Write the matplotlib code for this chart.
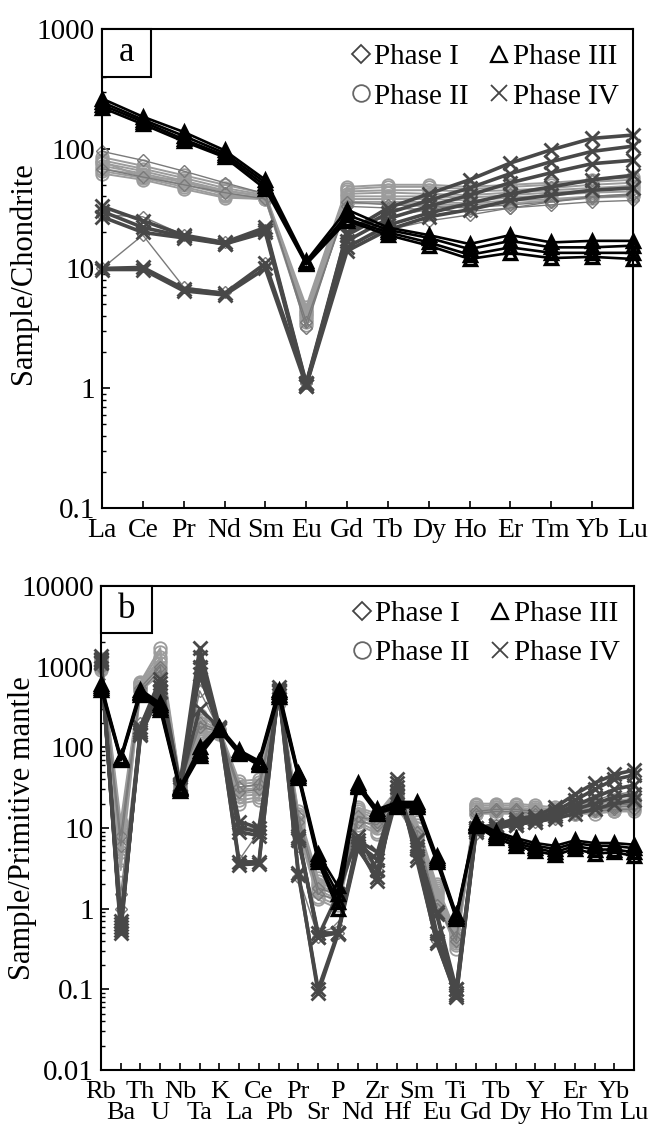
import matplotlib
matplotlib.use("Agg")
import matplotlib.pyplot as plt
from matplotlib.lines import Line2D
from matplotlib.patches import Rectangle

plt.rcParams['font.family'] = ['Liberation Serif', 'DejaVu Serif']

# ---- panel a: chondrite-normalised REE ----
ree = ['La', 'Ce', 'Pr', 'Nd', 'Sm', 'Eu', 'Gd', 'Tb', 'Dy', 'Ho', 'Er', 'Tm', 'Yb', 'Lu']

ree_phase1 = [
    [95, 80, 65, 52, 42, 3.2, 36, 34, 33, 32, 34, 36, 39, 41],
    [68, 58, 50, 43, 38, 3.6, 33, 32, 31, 30, 32, 34, 36, 37],
    [28, 27, 19, 16.5, 21, 1.1, 22, 27, 31, 35, 42, 48, 55, 58],
    [10, 19, 7, 6.3, 11, 1.1, 16, 21, 25, 28, 32, 36, 40, 42],
]
ree_phase2 = [
    [85, 72, 60, 50, 42, 4.8, 48, 50, 50, 48, 50, 52, 55, 58],
    [80, 68, 57, 47, 41, 4.5, 46, 48, 48, 46, 48, 50, 53, 55],
    [76, 65, 54, 45, 40, 4.3, 44, 45, 45, 44, 45, 47, 50, 52],
    [72, 62, 52, 44, 40, 4.0, 42, 43, 42, 41, 43, 45, 47, 49],
    [68, 60, 50, 42, 39, 3.8, 40, 40, 40, 39, 41, 43, 45, 47],
    [65, 57, 48, 40, 38, 3.6, 38, 38, 38, 37, 39, 41, 43, 44],
    [62, 55, 46, 39, 38, 3.4, 36, 36, 36, 35, 37, 38, 40, 41],
    [78, 58, 55, 41, 39, 4.2, 35, 35, 34, 34, 35, 37, 39, 40],
]
ree_phase3 = [
    [262, 185, 138, 97, 55, 11.5, 31, 22, 19, 16, 19, 16.5, 17, 17],
    [245, 175, 128, 92, 52, 11.2, 28, 21, 18, 14.5, 17, 15, 15, 15.5],
    [232, 168, 120, 88, 49, 11.0, 26, 20, 16.5, 13, 15, 13.5, 13.5, 13.5],
    [220, 160, 115, 85, 46, 10.8, 25, 19, 15.5, 12, 13.5, 12.2, 12.5, 12],
]
ree_phase4 = [
    [33, 25, 19, 16.5, 22, 1.1, 20, 32, 42, 55, 76, 98, 122, 130],
    [30, 22, 18.5, 16, 21, 1.08, 19, 29, 37, 47, 62, 78, 95, 105],
    [27, 20, 18, 16, 20, 1.05, 17, 26, 33, 41, 52, 63, 75, 80],
    [10, 10.2, 6.8, 6.2, 11, 1.1, 15, 23, 29, 35, 42, 48, 55, 60],
    [9.8, 9.8, 6.5, 6.0, 10, 1.05, 14, 21, 27, 31, 37, 41, 45, 47],
]

# ---- panel b: primitive-mantle-normalised trace elements ----
trace = ['Rb', 'Ba', 'Th', 'U', 'Nb', 'Ta', 'K', 'La', 'Ce', 'Pb', 'Pr', 'Sr', 'P', 'Nd',
         'Zr', 'Hf', 'Sm', 'Eu', 'Ti', 'Gd', 'Tb', 'Dy', 'Y', 'Ho', 'Er', 'Tm', 'Yb', 'Lu']

tr_phase1 = [
    [1000, 8, 550, 1000, 38, 200, 160, 32, 35, 420, 14, 1.8, 1.5, 14, 12, 22, 9, 1.0, 0.45, 16, 17, 17, 16, 15, 16, 17, 18, 19],
    [950, 6, 500, 900, 35, 180, 155, 28, 30, 400, 12, 1.5, 1.3, 12, 11, 20, 8, 1.1, 0.4, 15, 16, 16, 15, 14, 15, 16, 17, 17],
    [1100, 1.5, 200, 600, 33, 700, 170, 10, 10, 480, 6, 0.5, 0.6, 6.5, 4, 30, 5.5, 0.45, 0.1, 10, 11, 13, 13, 15, 19, 22, 26, 28],
    [1050, 1.0, 180, 500, 32, 500, 165, 4, 9, 450, 2.5, 0.45, 0.5, 6, 3, 25, 5, 0.4, 0.09, 8.5, 10, 11, 12, 13, 15, 17, 19, 20],
]
tr_phase2 = [
    [1250, 12, 650, 1700, 40, 250, 170, 38, 40, 500, 16, 2.4, 1.7, 18, 15, 30, 12, 2.0, 0.5, 20, 20, 20, 19, 18, 20, 21, 22, 23],
    [1200, 10, 620, 1500, 38, 220, 165, 35, 37, 480, 15, 2.2, 1.6, 17, 14, 28, 11, 1.9, 0.48, 19, 19, 19, 18, 17, 19, 20, 21, 22],
    [1150, 9, 600, 1300, 36, 200, 160, 32, 34, 450, 14, 2.0, 1.5, 16, 13, 26, 10, 1.8, 0.45, 18, 18, 18, 17, 17, 18, 19, 20, 21],
    [1100, 8, 580, 1200, 35, 180, 158, 30, 31, 430, 13, 1.9, 1.4, 15, 12, 25, 10, 1.7, 0.42, 17, 18, 17, 17, 16, 17, 18, 19, 20],
    [1050, 6, 560, 1100, 34, 160, 155, 27, 28, 400, 12, 1.7, 1.3, 14, 11, 24, 9, 1.6, 0.4, 17, 17, 17, 16, 16, 17, 17, 18, 19],
    [1000, 5, 540, 1000, 32, 150, 152, 25, 26, 380, 11, 1.6, 1.2, 13, 10, 22, 8.5, 1.5, 0.38, 16, 16, 16, 16, 15, 16, 17, 17, 18],
    [950, 4, 520, 900, 31, 140, 150, 22, 24, 360, 10, 1.4, 1.1, 12, 9, 20, 8, 1.4, 0.35, 15, 16, 15, 15, 15, 15, 16, 16, 17],
    [900, 3, 500, 800, 30, 130, 148, 20, 22, 350, 9, 1.3, 1.0, 11, 8.5, 18, 7.5, 1.3, 0.32, 15, 15, 15, 14, 14, 15, 15, 16, 16],
]
tr_phase3 = [
    [600, 76, 520, 350, 32, 100, 180, 92, 68, 520, 48, 4.8, 1.9, 36, 17, 21, 21, 4.5, 0.85, 12, 9, 7.5, 6.5, 6, 7, 6.5, 6.5, 6.2],
    [570, 73, 490, 330, 31, 90, 175, 88, 65, 480, 46, 4.4, 1.5, 34, 16, 19.5, 20, 4.2, 0.82, 11.5, 8.5, 7, 6, 5.5, 6.5, 6, 6, 5.6],
    [545, 71, 465, 310, 30, 82, 168, 85, 62, 450, 44, 4.1, 1.2, 33, 15.5, 18.5, 19, 4.0, 0.78, 11, 8, 6.5, 5.6, 5, 6, 5.4, 5.4, 5],
    [520, 69, 445, 290, 29, 78, 162, 82, 60, 420, 42, 3.8, 1.0, 32, 15, 18, 18, 3.8, 0.75, 10.5, 7.5, 6, 5.2, 4.6, 5.5, 4.8, 5, 4.5],
]
tr_phase4 = [
    [1350, 0.5, 180, 700, 35, 1700, 180, 3.5, 3.6, 560, 2.6, 0.1, 0.5, 6, 2.2, 40, 4, 0.4, 0.08, 9.5, 11, 13, 14, 18, 26, 36, 46, 52],
    [1250, 0.55, 165, 620, 33, 1300, 172, 3.8, 3.8, 520, 2.8, 0.09, 0.48, 5.5, 2.5, 36, 4.5, 0.38, 0.085, 9, 10.5, 12, 13, 16, 22, 30, 40, 45],
    [1200, 0.6, 155, 560, 32, 1000, 168, 10, 9, 500, 7.5, 0.45, 0.5, 7, 5, 32, 6, 0.9, 0.1, 10, 11, 12, 13, 15, 19, 24, 30, 34],
    [1150, 0.7, 145, 500, 30, 800, 162, 9, 8, 480, 7, 0.5, 0.5, 6.5, 4, 28, 5.5, 0.85, 0.09, 9.5, 10, 11, 12, 14, 17, 20, 24, 26],
    [1100, 0.65, 140, 480, 34, 300, 175, 12, 10, 450, 8, 0.45, 1.5, 8, 3, 25, 7, 0.5, 0.1, 10, 10, 11, 12, 13, 15, 17, 20, 22],
]

phase_names = ['Phase I', 'Phase II', 'Phase III', 'Phase IV']

# style per phase (drawing order: II, I, IV, III)
styles = {
    'Phase I':   dict(color='#7a7a7a', marker='D', ms=6.5, lw=1.0, mew=1.0, mfc='none'),
    'Phase II':  dict(color='#9c9c9c', marker='o', ms=9, lw=1.4, mew=1.3, mfc='none'),
    'Phase III': dict(color='#000000', marker='^', ms=8.5, lw=1.9, mew=2.4, mfc='none'),
    'Phase IV':  dict(color='#484848', marker='x', ms=10, lw=2.6, mew=2.0, mfc='none'),
}
legend_style = {
    'Phase I':   dict(marker='D', ms=9, mec='#444444', mew=1.3),
    'Phase II':  dict(marker='o', ms=12, mec='#666666', mew=1.3),
    'Phase III': dict(marker='^', ms=12, mec='#000000', mew=1.6),
    'Phase IV':  dict(marker='x', ms=11, mec='#444444', mew=1.3),
}


def draw(ax, data, names):
    x = list(range(len(names)))
    order = ['Phase II', 'Phase I', 'Phase IV', 'Phase III']
    for ph in order:
        st = styles[ph]
        for row in data[ph]:
            ax.plot(x, row, color=st['color'], lw=st['lw'], marker=st['marker'],
                    ms=st['ms'], mew=st['mew'], mfc=st['mfc'], mec=st['color'],
                    clip_on=False)
    ax.set_yscale('log')
    ax.set_xlim(0, len(names) - 1)
    for s in ax.spines.values():
        s.set_linewidth(1.5)
    ax.tick_params(axis='y', which='both', direction='in', labelsize=21, pad=5)
    ax.tick_params(axis='y', which='major', length=6, width=1.2)
    ax.tick_params(axis='y', which='minor', length=3, width=1.0)
    ax.tick_params(axis='x', which='both', direction='in', length=5, width=1.2)

    handles = [Line2D([], [], ls='none', mfc='none', **legend_style[p]) for p in phase_names]
    ax.legend(handles, phase_names, loc='upper right', ncol=2, frameon=False,
              fontsize=21, handlelength=0.7, handletextpad=0.1, columnspacing=0.7,
              labelspacing=0.45, borderaxespad=0.2, borderpad=0.3)


def panel_box(ax, letter, w, h):
    ax.add_patch(Rectangle((0, 1 - h), w, h, transform=ax.transAxes, fc='white',
                           ec='black', lw=1.5, zorder=10, clip_on=False))
    ax.text(w / 2, 1 - h / 2, letter, transform=ax.transAxes, ha='center', va='center',
            fontsize=25, zorder=11)


fig = plt.figure(figsize=(6.58, 11.27), dpi=100)

# panel a
ax1 = fig.add_axes([0.155, 0.5493, 0.807, 0.425])
draw(ax1, {'Phase I': ree_phase1, 'Phase II': ree_phase2,
           'Phase III': ree_phase3, 'Phase IV': ree_phase4}, ree)
ax1.set_ylim(0.1, 1000)
ax1.set_yticks([0.1, 1, 10, 100, 1000], ['0.1', '1', '10', '100', '1000'])
ax1.set_xticks(range(len(ree)), ree)
ax1.tick_params(axis='x', pad=7, labelsize=20)
ax1.set_ylabel('Sample/Chondrite', fontsize=22)
ax1.yaxis.set_label_coords(-0.12, 0.49)
panel_box(ax1, 'a', 0.092, 0.1)

# panel b
ax2 = fig.add_axes([0.1535, 0.0506, 0.81, 0.4295])
draw(ax2, {'Phase I': tr_phase1, 'Phase II': tr_phase2,
           'Phase III': tr_phase3, 'Phase IV': tr_phase4}, trace)
ax2.set_ylim(0.01, 10000)
ax2.set_yticks([0.01, 0.1, 1, 10, 100, 1000, 10000],
               ['0.01', '0.1', '1', '10', '100', '1000', '10000'])
even = list(range(0, len(trace), 2))
odd = list(range(1, len(trace), 2))
ax2.set_xticks(even, [trace[i] for i in even])
ax2.set_xticks(odd, [trace[i] for i in odd], minor=True)
ax2.tick_params(axis='x', which='major', pad=8, labelsize=19)
ax2.tick_params(axis='x', which='minor', pad=23, labelsize=19)
ax2.set_ylabel('Sample/Primitive mantle', fontsize=22)
ax2.yaxis.set_label_coords(-0.12, 0.5)
panel_box(ax2, 'b', 0.096, 0.097)

fig.savefig('out.png', dpi=100)
